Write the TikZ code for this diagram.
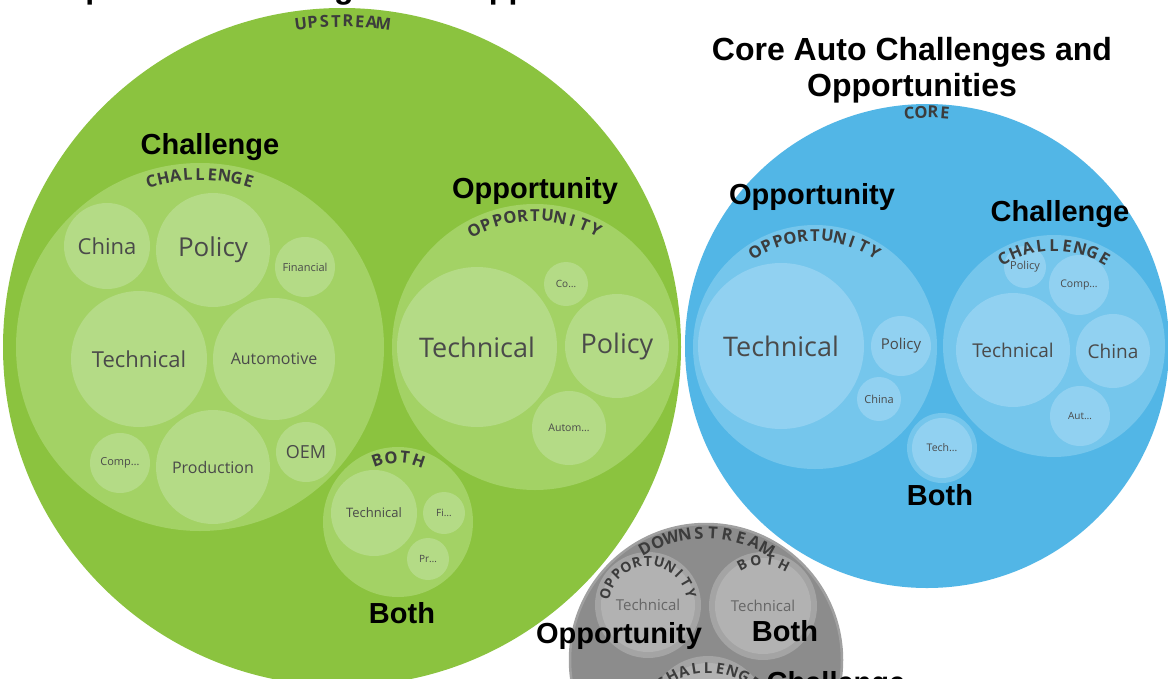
\documentclass[tikz,border=0pt]{standalone}
\usepackage{fontspec}
\setmainfont{Liberation Sans}
\newfontfamily\leaffont{Open Sans}
\newfontfamily\arcfont{Open Sans}
\usetikzlibrary{calc}
\definecolor{gOut}{HTML}{8BC33F}
\definecolor{gMid}{HTML}{A3D265}
\definecolor{gLeaf}{HTML}{B4DB86}
\definecolor{bOut}{HTML}{52B6E6}
\definecolor{bMid}{HTML}{75C6EC}
\definecolor{bLeaf}{HTML}{91D1F1}
\definecolor{kOut}{HTML}{8C8C8C}
\definecolor{kEdge}{HTML}{A0A0A0}
\definecolor{kMid}{HTML}{A4A4A4}
\definecolor{kLeaf}{HTML}{B2B2B2}
\definecolor{kText}{HTML}{666666}
\definecolor{leafC}{HTML}{4A4A4A}
\definecolor{arcC}{HTML}{3C3C3C}
\newcommand\fsz[1]{\fontsize{#1}{#1}\selectfont}
\newcommand\lf[1]{\leaffont\fontsize{#1}{#1}\selectfont}
\tikzset{
  leaf/.style={circle, inner sep=0pt, text=leafC},
  gleaf/.style={leaf, fill=gLeaf},
  bleaf/.style={leaf, fill=bLeaf},
  kleaf/.style={leaf, fill=kLeaf, text=kText},
  arclbl/.style={anchor=base, inner sep=0pt, font=\arcfont\bfseries\fsz{16.5}, text=arcC},
  lbl/.style={inner sep=0pt, anchor=base, font=\bfseries\fsz{29}, text=black},
  ttl/.style={inner sep=0pt, anchor=base, font=\bfseries\fsz{32}, text=black},
}
% #1 centre, #2 baseline radius, #3 mid angle, #4 step, #5 count, #6 letters, #7 name, #8 extra options
\newcommand\arclabel[8]{%
  \foreach \ch [count=\i] in {#6} {%
    \pgfmathsetmacro\arcang{#3+((#5+1)/2-\i)*#4}%
    \node[arclbl, #8, rotate=\arcang-90] (#7-\i) at ([shift={(\arcang:#2pt)}]#1) {\ch};
  }%
}
\begin{document}
\begin{tikzpicture}[x=1pt,y=-1pt]
\useasboundingbox (0,0) rectangle (1168,678);
\clip (0,0) rectangle (1168,678);
\fill[white] (0,0) rectangle (1168,678);

\coordinate (UP) at (342,347);
\coordinate (UC) at (200,347);
\coordinate (UO) at (535,347);
\coordinate (UB) at (398,522);
\coordinate (CO) at (927,346);
\coordinate (CP) at (815,347);
\coordinate (CC) at (1054,346);
\coordinate (CB) at (942,448);
\coordinate (DN) at (706,660);
\coordinate (DO) at (648,605);
\coordinate (DB) at (763,606);
\coordinate (DC) at (708,716);
\coordinate (DCT) at (708,745);

% ---------------- Upstream (green)
\fill[gOut] (UP) circle[radius=339pt];
\fill[gMid] (UC) circle[radius=184pt];
\fill[gMid] (UO) circle[radius=143pt];
\fill[gMid] (UB) circle[radius=75pt];

\node[gleaf, minimum size=86pt, font=\lf{22}] (uc-china) at (107,246) {China};
\node[gleaf, minimum size=114pt, font=\lf{26}] (uc-policy) at (213,250) {Policy};
\node[gleaf, minimum size=60pt, font=\lf{11}] (uc-fin) at (305,267) {Financial};
\node[gleaf, minimum size=136pt, font=\lf{22}] (uc-tech) at (139,359) {Technical};
\node[gleaf, minimum size=122pt, font=\lf{16}] (uc-auto) at (274,359) {Automotive};
\node[gleaf, minimum size=60pt, font=\lf{11}] (uc-comp) at (120,463) {Comp…};
\node[gleaf, minimum size=114pt, font=\lf{16}] (uc-prod) at (213,467) {Production};
\node[gleaf, minimum size=60pt, font=\lf{18}] (uc-oem) at (306,452) {OEM};

\node[gleaf, minimum size=160pt, font=\lf{27}] (uo-tech) at (477,347) {Technical};
\node[gleaf, minimum size=104pt, font=\lf{27}] (uo-policy) at (617,346) {Policy};
\node[gleaf, minimum size=44pt, font=\lf{10}] (uo-co) at (566,284) {Co…};
\node[gleaf, minimum size=74pt, font=\lf{10.5}] (uo-autom) at (569,428) {Autom…};

\node[gleaf, minimum size=86pt, font=\lf{13}] (ub-tech) at (374,513) {Technical};
\node[gleaf, minimum size=42pt, font=\lf{10}] (ub-fi) at (444,513) {Fi…};
\node[gleaf, minimum size=42pt, font=\lf{10}] (ub-pr) at (428,559) {Pr…};

\arclabel{UP}{320}{90}{2.08}{8}{U,P,S,T,R,E,A,M}{a-up}{}
\arclabel{UC}{167}{90}{4.1}{9}{C,H,A,L,L,E,N,G,E}{a-uc}{}
\arclabel{UO}{126}{90}{5.5}{11}{O,P,P,O,R,T,U,N,I,T,Y}{a-uo}{}
\arclabel{UB}{59}{90}{12.5}{4}{B,O,T,H}{a-ub}{}

% ---------------- Core (blue)
\fill[bOut] (CO) circle[radius=242pt];
\fill[bMid] (CP) circle[radius=122pt];
\fill[bMid] (CC) circle[radius=111pt];
\fill[bMid] (CB) circle[radius=35pt];

\node[bleaf, minimum size=166pt, font=\lf{27}] (cp-tech) at (781,346) {Technical};
\node[bleaf, minimum size=60pt, font=\lf{15}] (cp-policy) at (901,346) {Policy};
\node[bleaf, minimum size=44pt, font=\lf{11}] (cp-china) at (879,399) {China};

\node[bleaf, minimum size=42pt, font=\lf{11}] (cc-policy) at (1025,267) {Policy};
\node[bleaf, minimum size=60pt, font=\lf{10.5}] (cc-comp) at (1079,285) {Comp…};
\node[bleaf, minimum size=114pt, font=\lf{19}] (cc-tech) at (1013,350) {Technical};
\node[bleaf, minimum size=74pt, font=\lf{19}] (cc-china) at (1113,351) {China};
\node[bleaf, minimum size=60pt, font=\lf{10}] (cc-aut) at (1080,416) {Aut…};

\node[bleaf, minimum size=60pt, font=\lf{10.5}] (cb-tech) at (CB) {Tech…};

\arclabel{CO}{228}{90}{2.93}{4}{C,O,R,E}{a-co}{}
\arclabel{CP}{106}{90}{6.44}{11}{O,P,P,O,R,T,U,N,I,T,Y}{a-cp}{}
\arclabel{CC}{95}{90}{7.5}{9}{C,H,A,L,L,E,N,G,E}{a-cc}{}

% ---------------- Downstream (grey)
\path[fill=kOut, draw=kEdge, line width=2.5pt] (DN) circle[radius=136pt];
\fill[kMid] (DO) circle[radius=53pt];
\fill[kMid] (DB) circle[radius=54pt];
\fill[kMid] (DC) circle[radius=60pt];
\node[kleaf, minimum size=94pt, font=\lf{15}] (do-tech) at (DO) {Technical};
\node[kleaf, minimum size=96pt, font=\lf{15}] (db-tech) at (DB) {Technical};
\node[kleaf, minimum size=106pt] (dc-leaf) at (DC) {};

\arclabel{DN}{121}{90}{6.4}{10}{D,O,W,N,S,T,R,E,A,M}{a-dn}{}
\arclabel{DO}{39}{90}{15}{11}{O,P,P,O,R,T,U,N,I,T,Y}{a-do}{font=\arcfont\bfseries\fsz{14}}
\arclabel{DB}{41}{90}{18}{4}{B,O,T,H}{a-db}{font=\arcfont\bfseries\fsz{14}}
\arclabel{DCT}{72}{90}{9.2}{9}{C,H,A,L,L,E,N,G,E}{a-dc}{font=\arcfont\bfseries\fsz{15}}

% ---------------- bold labels and titles
\node[ttl, anchor=base west] (t-up) at (62,-2) {Upstream Challenges and Opportunities};
\node[ttl] (t-core1) at (912,60) {Core Auto Challenges and};
\node[ttl] (t-core2) at (912,96) {Opportunities};

\node[lbl] (l-uc) at (210,154) {Challenge};
\node[lbl] (l-uo) at (535,198) {Opportunity};
\node[lbl] (l-ub) at (402,623) {Both};
\node[lbl] (l-cp) at (812,204) {Opportunity};
\node[lbl] (l-cc) at (1060,221) {Challenge};
\node[lbl] (l-cb) at (940,505) {Both};
\node[lbl] (l-do) at (619,643) {Opportunity};
\node[lbl] (l-db) at (785,641) {Both};
\node[lbl] (l-dc) at (836,692) {Challenge};
\end{tikzpicture}
\end{document}
